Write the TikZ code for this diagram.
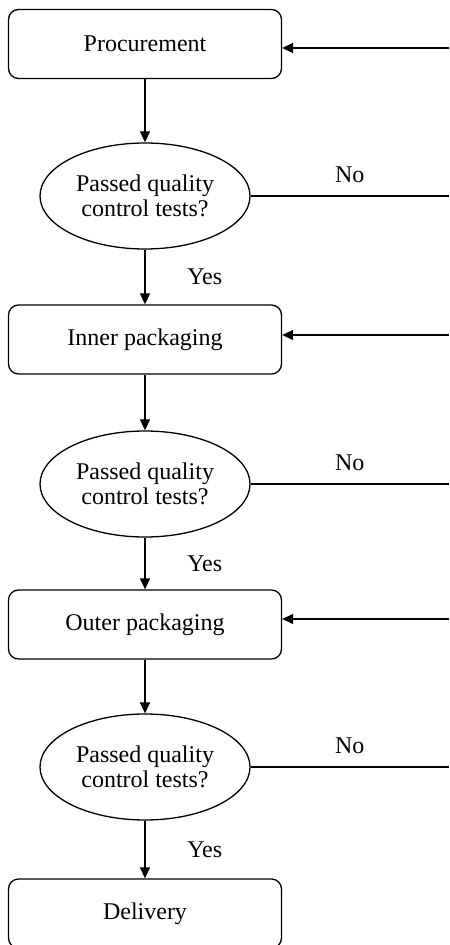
\documentclass[tikz,border=0pt]{standalone}
\usepackage{fontspec}
\setmainfont{Liberation Serif}
\usetikzlibrary{
    arrows.meta,
    shapes.geometric,
    positioning
}
\tikzset{
    stage/.style={draw, rounded corners=5pt, minimum width=136.5pt, minimum height=34.5pt, inner sep=0pt},
    check/.style={draw, ellipse, minimum width=105pt, minimum height=53pt, inner sep=0pt, align=center}
}

\begin{document}
\begin{tikzpicture}[x=0.5pt, y=-0.5pt, line width=0.65pt,
    >={Triangle[length=5.5pt, width=5pt]},
    font=\fontsize{12}{12.5}\selectfont]
                        \useasboundingbox (0, 0) rectangle (449, 945);
                        \node[stage] (proc) at (145, 44) {Procurement};
                        \node[check] (q1) at (145, 196) {Passed quality\\control tests?};
                        \node[stage] (inner) at (145, 339.5) {Inner packaging};
                        \node[check] (q2) at (145, 484) {Passed quality\\control tests?};
                        \node[stage] (outer) at (145, 624.5) {Outer packaging};
                        \node[check] (q3) at (145, 767) {Passed quality\\control tests?};
                        \node[stage] (deliv) at (145, 913.5) {Delivery};
                        % loose ends at the right edge
                        \coordinate (r1) at (449, 48);
                        \coordinate (r2) at (449, 335);
                        \coordinate (r3) at (449, 619);
                        \coordinate (n1) at (449, 196);
                        \coordinate (n2) at (449, 484);
                        \coordinate (n3) at (449, 767);
                        \draw (proc) edge[->] (q1);
                        \draw (inner) edge[->] (q2);
                        \draw (outer) edge[->] (q3);
                        \draw[->] (q1) -- node[right=17.5pt] {Yes} (inner);
                        \draw[->] (q2) -- node[right=17.5pt] {Yes} (outer);
                        \draw[->] (q3) -- node[right=17.5pt] {Yes} (deliv);
                        \draw (q1) -- node[above=3pt] {No} (n1);
                        \draw (q2) -- node[above=3pt] {No} (n2);
                        \draw (q3) -- node[above=3pt] {No} (n3);
                        \draw (r1) edge[->] (r1 -| proc.east);
                        \draw (r2) edge[->] (r2 -| inner.east);
                        \draw (r3) edge[->] (r3 -| outer.east);
                    \end{tikzpicture}
\end{document}
